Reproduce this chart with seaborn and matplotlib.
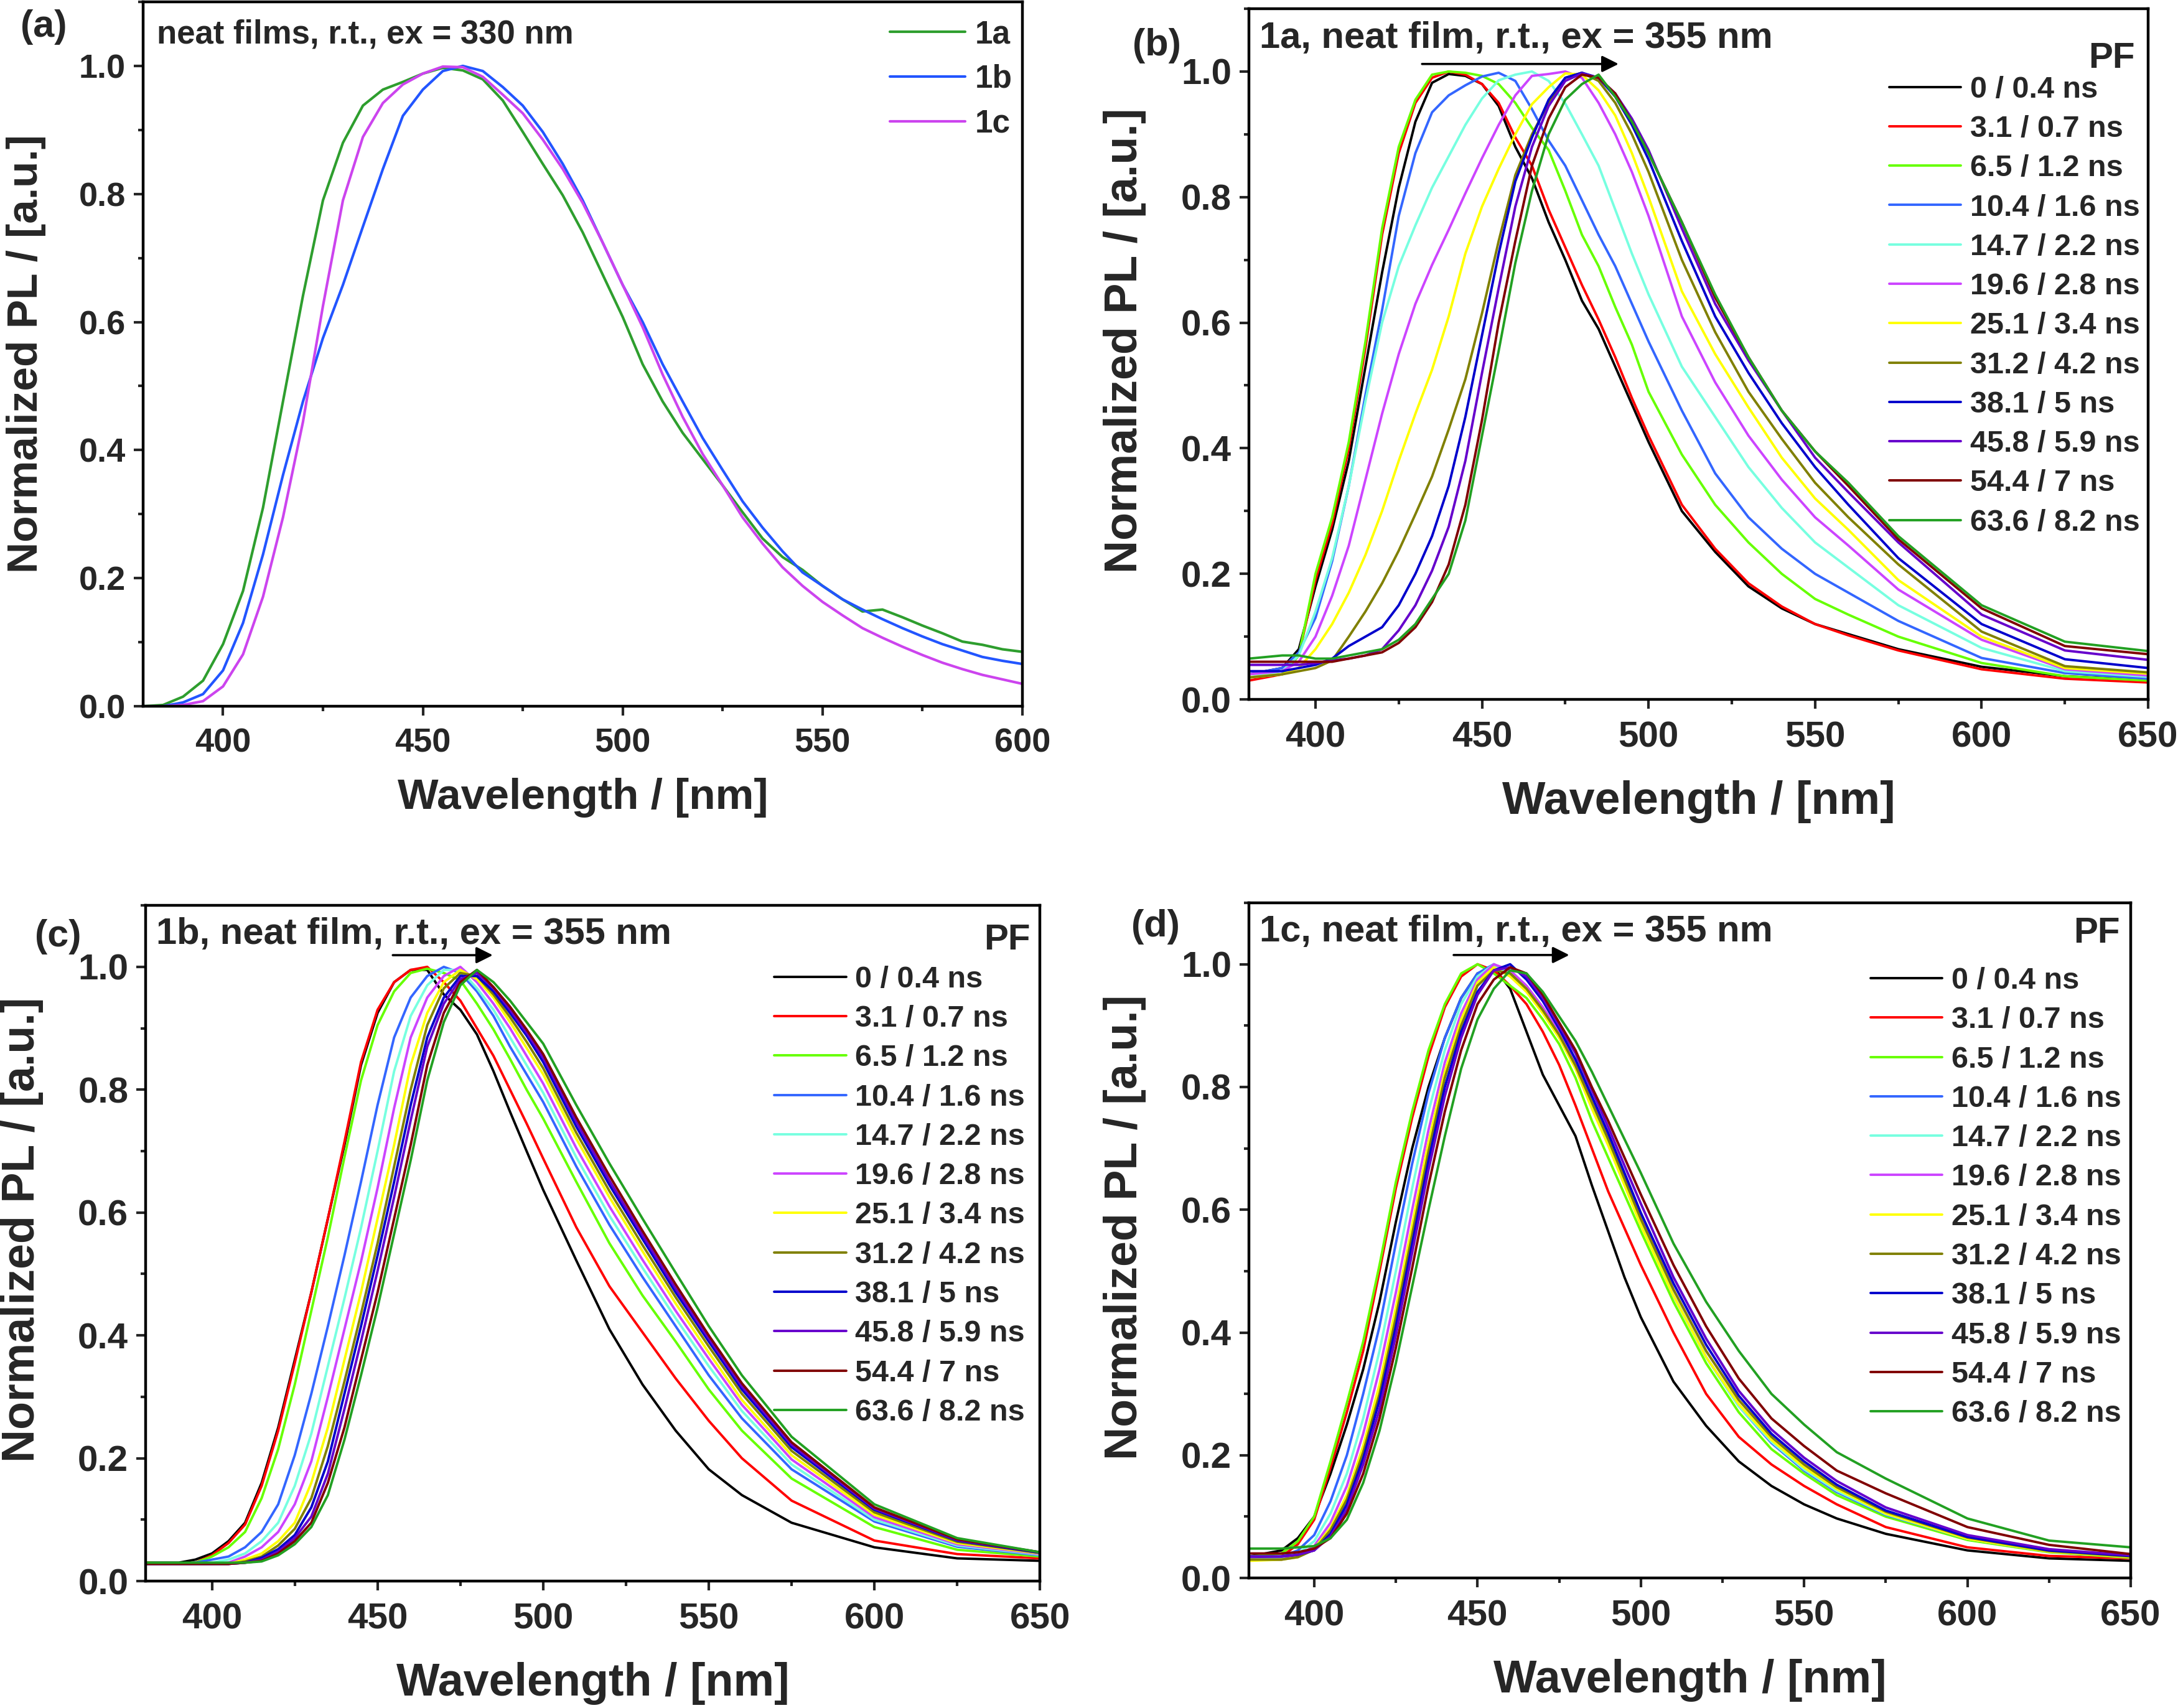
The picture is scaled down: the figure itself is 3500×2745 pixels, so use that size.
import matplotlib
matplotlib.use('Agg')
import matplotlib.pyplot as plt
from matplotlib.ticker import MultipleLocator
import seaborn as sns

# ---------------- data ----------------
# panel (a): steady state PL of the three neat films
wl_a = [380, 385, 390, 395, 400, 405, 410, 415, 420, 425, 430, 435, 440, 445, 450,
        455, 460, 465, 470, 475, 480, 485, 490, 495, 500, 505, 510, 515, 520, 525,
        530, 535, 540, 545, 550, 555, 560, 565, 570, 575, 580, 585, 590, 595, 600]
pl_1a = [0.0, 0.002, 0.015, 0.04, 0.097, 0.18, 0.31, 0.476, 0.641, 0.79, 0.88, 0.938, 0.963, 0.975, 0.988,
         0.997, 0.993, 0.979, 0.946, 0.897, 0.847, 0.798, 0.74, 0.674, 0.608, 0.534, 0.476, 0.427, 0.386, 0.345,
         0.303, 0.262, 0.233, 0.213, 0.188, 0.167, 0.148, 0.151, 0.139, 0.126, 0.114, 0.101, 0.096, 0.089, 0.085]
pl_1b = [0.0, 0.0, 0.006, 0.019, 0.056, 0.13, 0.237, 0.361, 0.476, 0.575, 0.658, 0.749, 0.839, 0.922, 0.963,
         0.992, 1.0, 0.992, 0.967, 0.938, 0.897, 0.847, 0.79, 0.724, 0.658, 0.6, 0.534, 0.476, 0.419, 0.369,
         0.32, 0.279, 0.242, 0.209, 0.188, 0.167, 0.151, 0.136, 0.122, 0.109, 0.097, 0.087, 0.077, 0.071, 0.066]
pl_1c = [0.0, 0.0, 0.002, 0.008, 0.031, 0.081, 0.171, 0.295, 0.444, 0.625, 0.79, 0.889, 0.942, 0.971, 0.988,
         0.999, 0.998, 0.983, 0.955, 0.926, 0.885, 0.839, 0.786, 0.724, 0.658, 0.592, 0.518, 0.452, 0.394, 0.345,
         0.295, 0.254, 0.217, 0.188, 0.163, 0.142, 0.122, 0.107, 0.093, 0.08, 0.068, 0.058, 0.049, 0.042, 0.035]
labels_a = ['1a', '1b', '1c']
colors_a = ['#2E9E2E', '#2255FF', '#CC44EE']

# panels (b)-(d): time-gated PL, common wavelength grid
wl = [380, 390, 395, 400, 405, 410, 415, 420, 425, 430, 435, 440, 445, 450, 455, 460, 465,
      470, 475, 480, 485, 490, 495, 500, 510, 520, 530, 540, 550, 560, 575, 600, 625, 650]
delays = ['0 / 0.4 ns', '3.1 / 0.7 ns', '6.5 / 1.2 ns', '10.4 / 1.6 ns', '14.7 / 2.2 ns',
          '19.6 / 2.8 ns', '25.1 / 3.4 ns', '31.2 / 4.2 ns', '38.1 / 5 ns', '45.8 / 5.9 ns',
          '54.4 / 7 ns', '63.6 / 8.2 ns']
delay_colors = ['#000000', '#FF0000', '#66FF00', '#3366FF', '#77FFE0', '#CC44FF',
                '#FFFF00', '#808000', '#0000CC', '#6600CC', '#800000', '#22A022']

# (b) 1a
b_00 = [0.04, 0.05, 0.08, 0.18, 0.27, 0.38, 0.53, 0.68, 0.815, 0.92, 0.982, 0.996, 0.993, 0.98, 0.945, 0.88, 0.83,
        0.76, 0.70, 0.635, 0.59, 0.53, 0.47, 0.41, 0.30, 0.235, 0.18, 0.145, 0.12, 0.104, 0.08, 0.052, 0.037, 0.031]
b_31 = [0.03, 0.04, 0.07, 0.19, 0.28, 0.40, 0.56, 0.74, 0.87, 0.95, 0.99, 1.0, 0.995, 0.98, 0.95, 0.895, 0.85,
        0.78, 0.72, 0.66, 0.605, 0.545, 0.48, 0.42, 0.31, 0.24, 0.185, 0.148, 0.12, 0.102, 0.078, 0.048, 0.033, 0.027]
b_65 = [0.035, 0.04, 0.07, 0.2, 0.29, 0.41, 0.57, 0.75, 0.88, 0.955, 0.995, 1.0, 0.998, 0.993, 0.98, 0.95, 0.91,
        0.875, 0.81, 0.74, 0.69, 0.625, 0.565, 0.49, 0.39, 0.31, 0.25, 0.20, 0.16, 0.135, 0.10, 0.058, 0.037, 0.03]
b_104 = [0.04, 0.05, 0.075, 0.13, 0.22, 0.34, 0.485, 0.62, 0.77, 0.87, 0.935, 0.962, 0.978, 0.992, 0.998, 0.985, 0.94,
         0.89, 0.85, 0.795, 0.74, 0.69, 0.63, 0.57, 0.46, 0.36, 0.29, 0.24, 0.2, 0.17, 0.125, 0.066, 0.042, 0.033]
b_147 = [0.035, 0.045, 0.07, 0.14, 0.225, 0.34, 0.475, 0.6, 0.69, 0.755, 0.815, 0.865, 0.915, 0.957, 0.986, 0.995, 1.0,
         0.985, 0.949, 0.9, 0.85, 0.78, 0.71, 0.645, 0.53, 0.45, 0.37, 0.305, 0.25, 0.21, 0.15, 0.082, 0.045, 0.036]
b_196 = [0.04, 0.045, 0.06, 0.1, 0.165, 0.245, 0.35, 0.455, 0.55, 0.63, 0.692, 0.748, 0.806, 0.862, 0.915, 0.962, 0.993,
         0.996, 1.0, 0.99, 0.95, 0.9, 0.84, 0.77, 0.61, 0.505, 0.42, 0.35, 0.29, 0.245, 0.175, 0.095, 0.048, 0.038]
b_251 = [0.035, 0.04, 0.05, 0.08, 0.12, 0.17, 0.23, 0.30, 0.38, 0.455, 0.525, 0.61, 0.71, 0.785, 0.845, 0.9, 0.948,
         0.975, 0.997, 0.995, 0.97, 0.93, 0.87, 0.8, 0.65, 0.55, 0.465, 0.385, 0.32, 0.27, 0.19, 0.10, 0.05, 0.041]
b_312 = [0.035, 0.04, 0.045, 0.05, 0.062, 0.1, 0.14, 0.185, 0.237, 0.295, 0.355, 0.43, 0.51, 0.615, 0.73, 0.835, 0.9,
         0.95, 0.99, 0.998, 0.985, 0.95, 0.9, 0.84, 0.70, 0.585, 0.49, 0.415, 0.345, 0.29, 0.215, 0.108, 0.053, 0.043]
b_381 = [0.045, 0.045, 0.05, 0.055, 0.065, 0.085, 0.1, 0.115, 0.15, 0.2, 0.26, 0.34, 0.45, 0.58, 0.71, 0.825, 0.895,
         0.955, 0.99, 0.998, 0.99, 0.96, 0.915, 0.86, 0.73, 0.61, 0.52, 0.44, 0.37, 0.31, 0.225, 0.12, 0.064, 0.05]
b_458 = [0.055, 0.055, 0.055, 0.058, 0.062, 0.065, 0.07, 0.08, 0.11, 0.15, 0.205, 0.275, 0.38, 0.52, 0.655, 0.785, 0.88,
         0.945, 0.985, 0.997, 0.99, 0.965, 0.925, 0.875, 0.75, 0.63, 0.54, 0.46, 0.385, 0.33, 0.25, 0.135, 0.078, 0.063]
b_544 = [0.06, 0.06, 0.06, 0.06, 0.06, 0.065, 0.07, 0.075, 0.09, 0.115, 0.155, 0.215, 0.31, 0.445, 0.6, 0.73, 0.85,
         0.925, 0.975, 0.995, 0.99, 0.965, 0.92, 0.87, 0.76, 0.64, 0.545, 0.46, 0.395, 0.34, 0.255, 0.145, 0.085, 0.072]
b_636 = [0.065, 0.07, 0.07, 0.065, 0.065, 0.07, 0.075, 0.08, 0.095, 0.12, 0.16, 0.2, 0.285, 0.42, 0.555, 0.695, 0.81,
         0.9, 0.955, 0.98, 0.995, 0.96, 0.92, 0.87, 0.76, 0.645, 0.545, 0.46, 0.395, 0.345, 0.26, 0.15, 0.092, 0.077]

# (c) 1b
c_00 = [0.03, 0.03, 0.035, 0.045, 0.065, 0.095, 0.16, 0.25, 0.36, 0.47, 0.59, 0.71, 0.84, 0.925, 0.975, 0.995, 0.995,
        0.955, 0.93, 0.89, 0.83, 0.764, 0.70, 0.637, 0.522, 0.41, 0.32, 0.245, 0.182, 0.14, 0.095, 0.055, 0.037, 0.033]
c_31 = [0.03, 0.028, 0.03, 0.042, 0.062, 0.092, 0.155, 0.245, 0.355, 0.47, 0.59, 0.715, 0.845, 0.93, 0.975, 0.995, 1.0,
        0.975, 0.945, 0.9, 0.855, 0.8, 0.745, 0.688, 0.576, 0.48, 0.405, 0.33, 0.261, 0.2, 0.131, 0.066, 0.044, 0.037]
c_65 = [0.03, 0.028, 0.03, 0.04, 0.055, 0.08, 0.135, 0.215, 0.32, 0.44, 0.56, 0.69, 0.815, 0.905, 0.96, 0.99, 0.997,
        0.99, 0.978, 0.94, 0.898, 0.85, 0.80, 0.753, 0.65, 0.55, 0.465, 0.39, 0.312, 0.245, 0.167, 0.088, 0.051, 0.04]
c_104 = [0.028, 0.028, 0.03, 0.035, 0.04, 0.055, 0.08, 0.125, 0.205, 0.305, 0.415, 0.53, 0.65, 0.775, 0.885, 0.95, 0.985,
         1.0, 0.99, 0.96, 0.92, 0.87, 0.825, 0.78, 0.675, 0.58, 0.495, 0.415, 0.335, 0.265, 0.182, 0.097, 0.056, 0.042]
c_147 = [0.028, 0.028, 0.028, 0.03, 0.035, 0.045, 0.065, 0.095, 0.155, 0.24, 0.35, 0.46, 0.575, 0.70, 0.83, 0.92, 0.97,
         0.995, 0.995, 0.965, 0.93, 0.885, 0.84, 0.795, 0.69, 0.595, 0.51, 0.428, 0.35, 0.277, 0.19, 0.10, 0.058, 0.043]
c_196 = [0.028, 0.028, 0.028, 0.028, 0.03, 0.04, 0.055, 0.08, 0.125, 0.195, 0.30, 0.41, 0.52, 0.64, 0.77, 0.885, 0.95,
         0.985, 1.0, 0.975, 0.94, 0.9, 0.855, 0.81, 0.705, 0.61, 0.523, 0.44, 0.362, 0.287, 0.198, 0.104, 0.06, 0.044]
c_251 = [0.028, 0.028, 0.028, 0.028, 0.028, 0.035, 0.045, 0.065, 0.095, 0.16, 0.25, 0.36, 0.47, 0.59, 0.71, 0.84, 0.925,
         0.975, 0.995, 0.98, 0.95, 0.91, 0.868, 0.825, 0.72, 0.625, 0.537, 0.452, 0.372, 0.295, 0.205, 0.108, 0.062, 0.045]
c_312 = [0.028, 0.028, 0.028, 0.028, 0.028, 0.032, 0.04, 0.058, 0.085, 0.135, 0.22, 0.325, 0.435, 0.55, 0.675, 0.80, 0.905,
         0.965, 0.99, 0.985, 0.955, 0.918, 0.878, 0.835, 0.73, 0.635, 0.547, 0.462, 0.382, 0.305, 0.212, 0.112, 0.064, 0.046]
c_381 = [0.028, 0.028, 0.028, 0.028, 0.028, 0.03, 0.038, 0.052, 0.075, 0.12, 0.195, 0.305, 0.415, 0.53, 0.65, 0.775, 0.885,
         0.95, 0.985, 0.985, 0.96, 0.925, 0.888, 0.845, 0.74, 0.645, 0.557, 0.47, 0.39, 0.312, 0.218, 0.116, 0.066, 0.046]
c_458 = [0.028, 0.028, 0.028, 0.028, 0.028, 0.03, 0.035, 0.048, 0.07, 0.105, 0.175, 0.28, 0.39, 0.505, 0.625, 0.75, 0.87,
         0.94, 0.98, 0.99, 0.965, 0.93, 0.893, 0.852, 0.748, 0.652, 0.563, 0.476, 0.395, 0.317, 0.222, 0.118, 0.067, 0.047]
c_544 = [0.028, 0.028, 0.028, 0.028, 0.028, 0.03, 0.033, 0.045, 0.065, 0.095, 0.16, 0.25, 0.36, 0.47, 0.59, 0.71, 0.84,
         0.925, 0.975, 0.995, 0.967, 0.935, 0.898, 0.858, 0.755, 0.66, 0.57, 0.483, 0.40, 0.322, 0.226, 0.12, 0.068, 0.047]
c_636 = [0.03, 0.03, 0.03, 0.03, 0.03, 0.03, 0.032, 0.042, 0.06, 0.088, 0.14, 0.23, 0.335, 0.445, 0.565, 0.685, 0.815,
         0.91, 0.97, 0.995, 0.975, 0.945, 0.91, 0.875, 0.775, 0.68, 0.59, 0.502, 0.415, 0.335, 0.235, 0.125, 0.07, 0.047]

# (d) 1c
d_00 = [0.035, 0.045, 0.065, 0.1, 0.17, 0.25, 0.34, 0.45, 0.58, 0.7, 0.8, 0.88, 0.945, 0.985, 0.995, 0.96, 0.89,
        0.82, 0.77, 0.72, 0.64, 0.565, 0.49, 0.425, 0.32, 0.248, 0.19, 0.15, 0.12, 0.097, 0.072, 0.045, 0.032, 0.028]
d_31 = [0.03, 0.035, 0.055, 0.095, 0.18, 0.27, 0.37, 0.5, 0.635, 0.75, 0.85, 0.93, 0.98, 1.0, 0.99, 0.965, 0.935,
        0.89, 0.836, 0.77, 0.7, 0.63, 0.57, 0.51, 0.40, 0.30, 0.23, 0.185, 0.15, 0.12, 0.083, 0.05, 0.036, 0.032]
d_65 = [0.035, 0.04, 0.06, 0.1, 0.19, 0.285, 0.385, 0.51, 0.645, 0.76, 0.86, 0.935, 0.985, 1.0, 0.985, 0.965, 0.945,
        0.91, 0.87, 0.815, 0.745, 0.685, 0.625, 0.565, 0.45, 0.35, 0.27, 0.21, 0.17, 0.135, 0.1, 0.062, 0.042, 0.033]
d_104 = [0.035, 0.035, 0.045, 0.07, 0.125, 0.2, 0.3, 0.41, 0.545, 0.675, 0.79, 0.88, 0.945, 0.985, 1.0, 0.985, 0.96,
         0.925, 0.885, 0.835, 0.77, 0.71, 0.645, 0.58, 0.46, 0.36, 0.28, 0.22, 0.175, 0.14, 0.103, 0.064, 0.043, 0.034]
d_147 = [0.03, 0.032, 0.04, 0.06, 0.105, 0.17, 0.26, 0.37, 0.5, 0.635, 0.76, 0.86, 0.935, 0.98, 1.0, 0.985, 0.96,
         0.925, 0.885, 0.835, 0.77, 0.71, 0.645, 0.58, 0.46, 0.36, 0.28, 0.222, 0.177, 0.142, 0.104, 0.064, 0.043, 0.034]
d_196 = [0.03, 0.03, 0.036, 0.052, 0.09, 0.15, 0.235, 0.34, 0.465, 0.6, 0.73, 0.84, 0.92, 0.975, 1.0, 0.99, 0.965,
         0.93, 0.89, 0.84, 0.78, 0.72, 0.655, 0.59, 0.47, 0.37, 0.29, 0.23, 0.183, 0.147, 0.107, 0.066, 0.044, 0.035]
d_251 = [0.028, 0.03, 0.034, 0.048, 0.082, 0.135, 0.215, 0.315, 0.44, 0.575, 0.71, 0.825, 0.91, 0.97, 0.995, 0.98, 0.955,
         0.92, 0.88, 0.83, 0.765, 0.705, 0.64, 0.575, 0.46, 0.36, 0.283, 0.225, 0.18, 0.145, 0.105, 0.064, 0.043, 0.034]
d_312 = [0.03, 0.03, 0.034, 0.046, 0.078, 0.128, 0.205, 0.3, 0.425, 0.56, 0.695, 0.815, 0.9, 0.965, 0.99, 0.985, 0.96,
         0.925, 0.885, 0.835, 0.775, 0.715, 0.65, 0.585, 0.47, 0.37, 0.29, 0.23, 0.185, 0.148, 0.108, 0.066, 0.044, 0.035]
d_381 = [0.035, 0.035, 0.038, 0.045, 0.072, 0.12, 0.195, 0.29, 0.41, 0.545, 0.68, 0.8, 0.89, 0.955, 0.99, 1.0, 0.975,
         0.94, 0.895, 0.845, 0.785, 0.725, 0.66, 0.595, 0.48, 0.38, 0.297, 0.235, 0.19, 0.152, 0.11, 0.067, 0.045, 0.036]
d_458 = [0.035, 0.035, 0.038, 0.045, 0.068, 0.112, 0.185, 0.275, 0.395, 0.53, 0.665, 0.785, 0.88, 0.95, 0.99, 0.995, 0.98,
         0.945, 0.9, 0.855, 0.795, 0.735, 0.672, 0.61, 0.49, 0.39, 0.305, 0.242, 0.196, 0.158, 0.115, 0.07, 0.047, 0.037]
d_544 = [0.04, 0.04, 0.042, 0.048, 0.065, 0.105, 0.17, 0.26, 0.375, 0.505, 0.64, 0.76, 0.86, 0.935, 0.975, 0.995, 0.985,
         0.95, 0.905, 0.86, 0.8, 0.745, 0.685, 0.625, 0.51, 0.41, 0.325, 0.26, 0.215, 0.175, 0.138, 0.083, 0.054, 0.039]
d_636 = [0.048, 0.048, 0.05, 0.052, 0.065, 0.095, 0.155, 0.24, 0.35, 0.475, 0.6, 0.72, 0.83, 0.91, 0.96, 0.99, 0.985,
         0.955, 0.915, 0.875, 0.825, 0.77, 0.715, 0.66, 0.545, 0.45, 0.37, 0.3, 0.25, 0.205, 0.162, 0.097, 0.061, 0.05]

series_b = [b_00, b_31, b_65, b_104, b_147, b_196, b_251, b_312, b_381, b_458, b_544, b_636]
series_c = [c_00, c_31, c_65, c_104, c_147, c_196, c_251, c_312, c_381, c_458, c_544, c_636]
series_d = [d_00, d_31, d_65, d_104, d_147, d_196, d_251, d_312, d_381, d_458, d_544, d_636]

# ---------------- style ----------------
sns.set_style('ticks')
plt.rcParams['font.family'] = ['Liberation Sans', 'DejaVu Sans']
plt.rcParams['font.weight'] = 'bold'
plt.rcParams['axes.labelweight'] = 'bold'
plt.rcParams['axes.linewidth'] = 3.0

fig = plt.figure(figsize=(35, 27.45), dpi=100)


def style_axes(ax, xmax, tick_fs, label_fs, xpad, ypad, ylab_y):
    ax.set_xlim(380, xmax)
    ax.set_ylim(0, 1.1)
    ax.xaxis.set_major_locator(MultipleLocator(50))
    ax.xaxis.set_minor_locator(MultipleLocator(25))
    ax.yaxis.set_major_locator(MultipleLocator(0.2))
    ax.yaxis.set_minor_locator(MultipleLocator(0.1))
    ax.tick_params(which='major', direction='out', length=11, width=3,
                   labelsize=tick_fs, top=False, right=False)
    ax.tick_params(which='minor', direction='out', length=6, width=3,
                   top=False, right=False)
    ax.tick_params(axis='x', which='major', pad=14)
    ax.tick_params(axis='y', which='major', pad=9)
    for sp in ax.spines.values():
        sp.set_linewidth(3.2)
        sp.set_color('black')
    ax.set_xlabel('Wavelength / [nm]', fontsize=label_fs, fontweight='bold', labelpad=xpad)
    ax.set_ylabel('Normalized PL / [a.u.]', fontsize=label_fs, fontweight='bold', labelpad=ypad)
    ax.yaxis.label.set_y(ylab_y)


# ---------------- panel (a) ----------------
ax_a = fig.add_axes([0.0657, 0.5865, 0.4037, 0.4124])
for vals, lab, col in zip([pl_1a, pl_1b, pl_1c], labels_a, colors_a):
    sns.lineplot(x=wl_a, y=vals, ax=ax_a, color=col, lw=3.0, label=lab)
style_axes(ax_a, 600, 39, 50, 22, 38, 0.5)
ax_a.text(0.0156, 0.954, 'neat films, r.t., ex = 330 nm', transform=ax_a.transAxes,
          fontsize=38, fontweight='bold', va='center', ha='left')
ax_a.legend(loc='upper left', bbox_to_anchor=(0.849, 0.975), frameon=False,
            fontsize=37, handlelength=2.37, handletextpad=0.3, labelspacing=0.44,
            borderpad=0, borderaxespad=0)
fig.text(33 / 3500, 1 - 44 / 2745, '(a)', fontsize=44, fontweight='bold', va='center', ha='left')

# ---------------- panels (b)-(d) ----------------
panels = [
    dict(rect=[0.5734, 0.5905, 0.4129, 0.4044], data=series_b,
         title='1a, neat film, r.t., ex = 355 nm', arrow=(432, 491, 1.012),
         leg=(0.712, 0.903), letter='(b)', letter_xy=(1820, 74), pf=(0.985, 0.928)),
    dict(rect=[0.0669, 0.0743, 0.4106, 0.3956], data=series_c,
         title='1b, neat film, r.t., ex = 355 nm', arrow=(454.6, 484.8, 1.019),
         leg=(0.703, 0.911), letter='(c)', letter_xy=(56, 1505), pf=(0.989, 0.949)),
    dict(rect=[0.5734, 0.0761, 0.4049, 0.3953], data=series_d,
         title='1c, neat film, r.t., ex = 355 nm', arrow=(442.7, 478.1, 1.015),
         leg=(0.705, 0.905), letter='(d)', letter_xy=(1818, 1490), pf=(0.988, 0.955)),
]

for p in panels:
    ax = fig.add_axes(p['rect'])
    for vals, lab, col in zip(p['data'], delays, delay_colors):
        sns.lineplot(x=wl, y=vals, ax=ax, color=col, lw=2.8, label=lab)
    style_axes(ax, 650, 42, 53, 30, 40, 0.52)
    ax.text(0.012, 0.957, p['title'], transform=ax.transAxes,
            fontsize=43, fontweight='bold', va='center', ha='left')
    ax.text(p['pf'][0], p['pf'][1], 'PF', transform=ax.transAxes,
            fontsize=42, fontweight='bold', va='center', ha='right')
    x0, x1, ya = p['arrow']
    ax.annotate('', xy=(x1, ya), xytext=(x0, ya),
                arrowprops=dict(arrowstyle='-|>', color='black', lw=2.6,
                                mutation_scale=40, shrinkA=0, shrinkB=0))
    ax.legend(loc='upper left', bbox_to_anchor=p['leg'], frameon=False,
              fontsize=35, handlelength=2.37, handletextpad=0.3, labelspacing=0.376,
              borderpad=0, borderaxespad=0)
    lx, ly = p['letter_xy']
    fig.text(lx / 3500, 1 - ly / 2745, p['letter'], fontsize=44, fontweight='bold',
             va='center', ha='left')

fig.savefig('out.png', dpi=100, facecolor='white')
